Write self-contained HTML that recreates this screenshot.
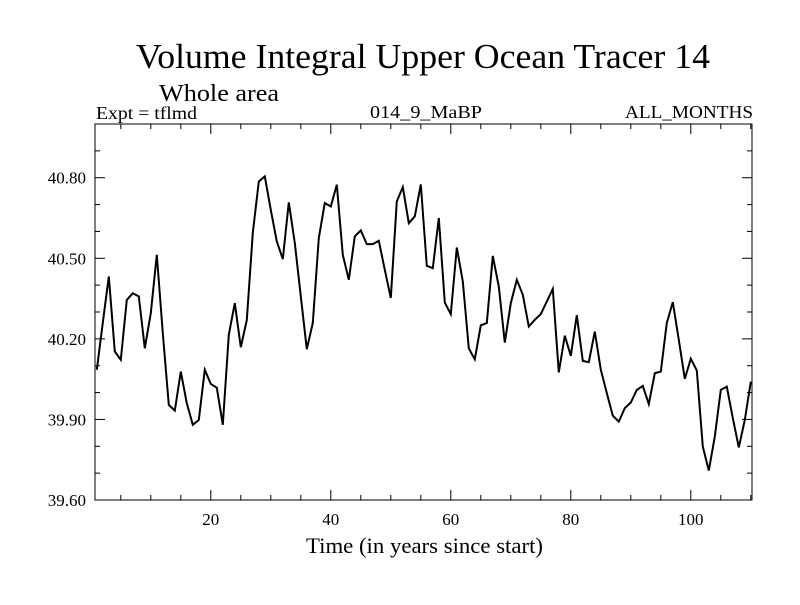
<!DOCTYPE html>
<html><head><meta charset="utf-8"><style>
body{margin:0;background:#fff;width:800px;height:600px;overflow:hidden}
svg text{font-family:"Liberation Serif",serif;fill:#000}
</style></head><body>
<svg id="chart" width="800" height="600" viewBox="0 0 800 600">
<text x="136" y="68" font-size="35" textLength="574" lengthAdjust="spacingAndGlyphs">Volume Integral Upper Ocean Tracer 14</text>
<text x="159" y="101" font-size="24" textLength="120" lengthAdjust="spacingAndGlyphs">Whole area</text>
<text x="96" y="119" font-size="18" textLength="101" lengthAdjust="spacingAndGlyphs">Expt = tflmd</text>
<text x="370" y="118" font-size="18" textLength="112" lengthAdjust="spacingAndGlyphs">014_9_MaBP</text>
<text x="625" y="118" font-size="18" textLength="128" lengthAdjust="spacingAndGlyphs">ALL_MONTHS</text>
<text x="306" y="553" font-size="22" textLength="237" lengthAdjust="spacingAndGlyphs">Time (in years since start)</text>
<g id="axes"></g>
<g id="plot"></g>
</svg>
<script>
const years=[];for(let i=1;i<=110;i++)years.push(i);
const values=[40.085,40.26,40.432,40.153,40.122,40.345,40.37,40.358,40.165,40.296,40.513,40.221,39.954,39.933,40.078,39.96,39.88,39.898,40.085,40.032,40.018,39.88,40.215,40.333,40.169,40.27,40.595,40.786,40.805,40.68,40.563,40.497,40.708,40.557,40.358,40.162,40.259,40.575,40.706,40.693,40.774,40.513,40.42,40.582,40.604,40.553,40.553,40.565,40.457,40.352,40.712,40.765,40.631,40.656,40.775,40.472,40.463,40.65,40.335,40.292,40.54,40.414,40.165,40.124,40.25,40.259,40.509,40.395,40.186,40.333,40.42,40.364,40.246,40.271,40.292,40.339,40.386,40.075,40.212,40.137,40.288,40.118,40.113,40.227,40.085,39.998,39.914,39.892,39.942,39.963,40.01,40.025,39.957,40.072,40.078,40.259,40.337,40.196,40.051,40.126,40.082,39.799,39.71,39.836,40.01,40.022,39.905,39.796,39.898,40.041];
const yTicks=[39.6,39.9,40.2,40.5,40.8];
const yTickLabels=["39.60","39.90","40.20","40.50","40.80"];
const xTicks=[20,40,60,80,100];
const xTickLabels=["20","40","60","80","100"];
const L=95,R=752,T=124,B=500,xmin=0.7,xmax=110.2,ymin=39.6,ymax=41.0;
const X=v=>L+(v-xmin)/(xmax-xmin)*(R-L);
const Y=v=>B-(v-ymin)/(ymax-ymin)*(B-T);
const NS="http://www.w3.org/2000/svg";
const axes=document.getElementById('axes'),plot=document.getElementById('plot');
function mk(tag,attrs,parent){const e=document.createElementNS(NS,tag);for(const k in attrs)e.setAttribute(k,attrs[k]);parent.appendChild(e);return e;}
const frame=mk('rect',{x:L,y:T,width:R-L,height:B-T,fill:'none',stroke:'#000','stroke-width':1},axes);


for(let k=0;k<=14;k++){const v=39.6+k*0.1;const major=k%3===0;const len=major?10:5;const y=Y(v);
const t1=mk('line',{x1:L,x2:L+len,y1:y,y2:y,stroke:'#000'},axes);


const t2=mk('line',{x1:R,x2:R-len,y1:y,y2:y,stroke:'#000'},axes);

}
yTicks.forEach((v,i)=>{const t=mk('text',{x:86,y:Y(v)+6,'font-size':17,'text-anchor':'end'},axes);t.textContent=yTickLabels[i];

});
for(let v=5;v<=110;v+=5){const major=v%20===0;const len=major?10:5;const x=X(v);
const t1=mk('line',{x1:x,x2:x,y1:B,y2:B-len,stroke:'#000'},axes);


const t2=mk('line',{x1:x,x2:x,y1:T,y2:T+len,stroke:'#000'},axes);

}
xTicks.forEach((v,i)=>{const t=mk('text',{x:X(v),y:525,'font-size':17,'text-anchor':'middle'},axes);t.textContent=xTickLabels[i];

});
const pts=values.map((v,i)=>X(years[i]).toFixed(1)+','+Y(v).toFixed(1)).join(' ');
const line=mk('polyline',{points:pts,fill:'none',stroke:'#000','stroke-width':2,'stroke-linejoin':'miter'},plot);


</script>
</body></html>
